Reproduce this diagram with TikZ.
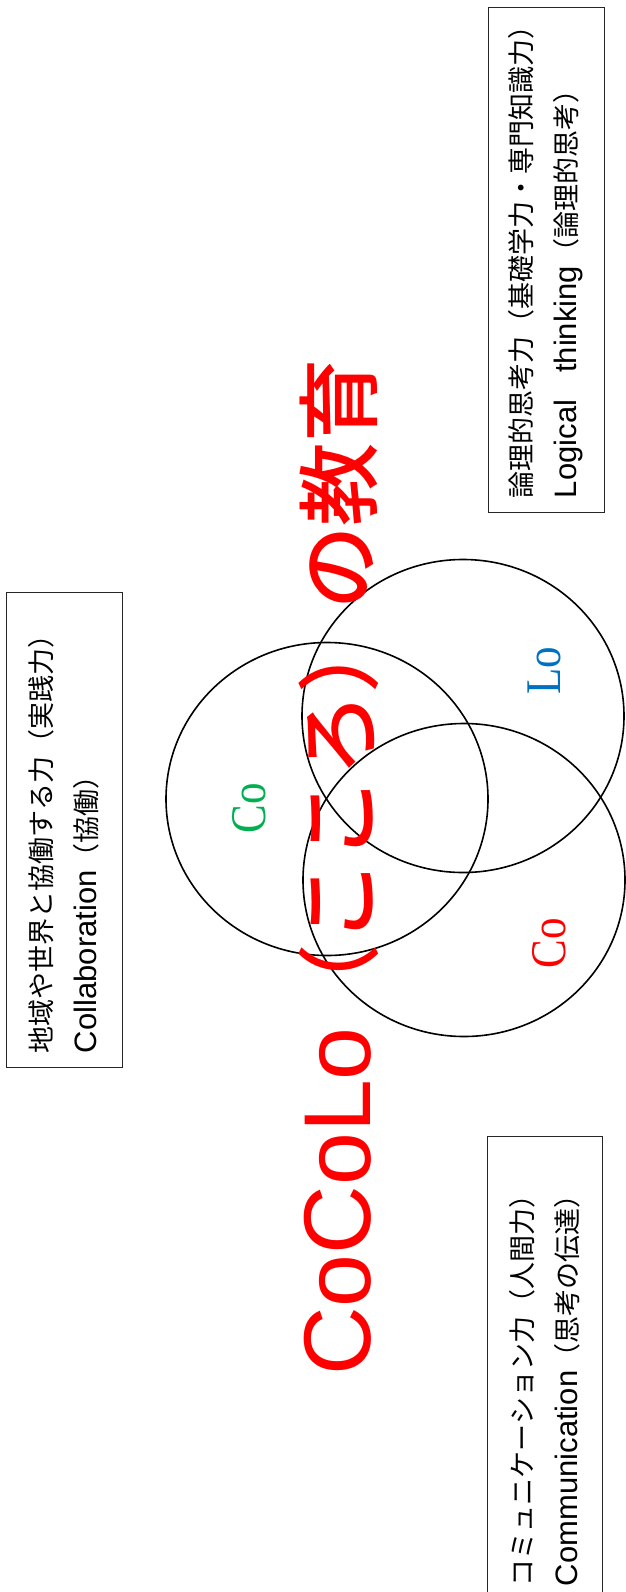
\documentclass[tikz,border=0pt]{standalone}
\usepackage{fontspec}
\setmainfont{Liberation Sans}
\newfontfamily\jpfont{Noto Sans CJK JP}
\newfontfamily\jpbig{Noto Sans CJK JP Medium}
\newfontfamily\vennserif{Liberation Serif}
\definecolor{cogreen}{RGB}{0,176,80}
\definecolor{loblue}{RGB}{0,112,192}
\definecolor{cored}{RGB}{255,0,0}
\usetikzlibrary{shapes.geometric}
\newcommand{\enword}[1]{{\fontsize{31}{45}\selectfont\rmfamily #1}}

\tikzset{
  infobox/.style={draw=black!85, line width=0.9pt, rotate=90, align=left, inner xsep=14pt, font=\fontsize{27}{45}\selectfont\jpfont},
  venn/.style={draw, ellipse, line width=1.6pt, inner sep=0pt, minimum width=322pt, minimum height=313pt},
  vennlabel/.style={rotate=90, inner sep=0pt, font=\fontsize{43}{43}\selectfont\vennserif},
}

\begin{document}
\begin{tikzpicture}[x=1pt, y=-1pt]
        \useasboundingbox (0,0) rectangle (625,1592);
        \node[venn] (circA) at (327,799) {};
        \node[venn] (circB) at (463,716) {};
        \node[venn] (circC) at (464,880) {};
        \node[vennlabel, text=cogreen] (labA) at (249,808) {\scalebox{1}[1.16]{Co}};
        \node[vennlabel, text=loblue] (labB) at (544,671) {\scalebox{1}[1.16]{Lo}};
        \node[vennlabel, text=cored] (labC) at (549,943) {\scalebox{1}[1.16]{Co}};
        \node[rotate=90, anchor=base west, inner sep=0pt, text=cored, font=\fontsize{95}{95}\selectfont] (title) at (370,1376) {CoCoLo{\jpbig\fontsize{83.5}{95}\selectfont （こころ）の教育}};
        \node[infobox, minimum width=475pt, minimum height=116pt, text width=447pt] (collab) at (64,829.5) {地域や世界と協働する力（実践力）\\\enword{Collaboration}（協働）};
        \node[infobox, minimum width=505pt, minimum height=116pt, text width=477pt] (logic) at (546,259.5) {論理的思考力（基礎学力・専門知識力）\\\enword{Logical}　\enword{thinking}（論理的思考）};
        \node[infobox, minimum width=464pt, minimum height=115pt, text width=436pt] (commu) at (544.5,1368) {コミュニケーション力（人間力）\\\enword{Communication}（思考の伝達）};
      \end{tikzpicture}
\end{document}
